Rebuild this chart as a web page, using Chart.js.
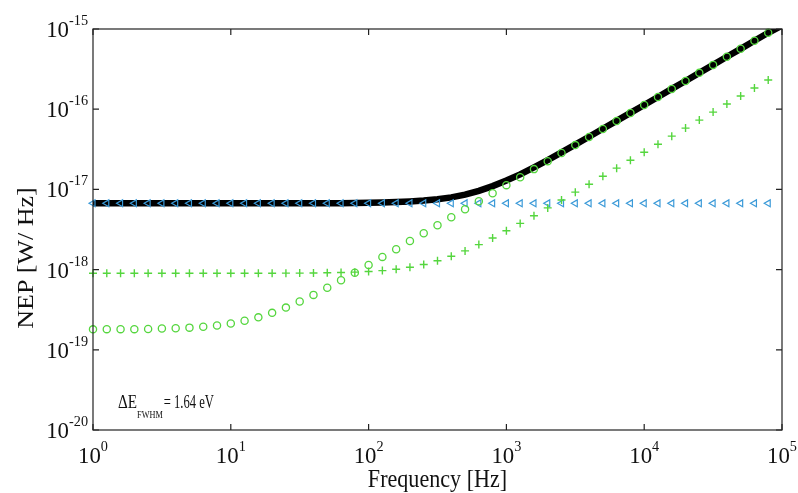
<!DOCTYPE html>
<html>
<head>
<meta charset="utf-8">
<script src="https://cdn.jsdelivr.net/npm/chart.js@4.4.1/dist/chart.umd.min.js"></script>
<style>
  html, body { margin: 0; padding: 0; background: #fff; }
  #wrap { width: 798px; height: 493px; }
</style>
</head>
<body>
<div id="wrap"><canvas id="chart"></canvas></div>
<script>
// frequency points (Hz), 10 per decade
const freq = [1, 1.259, 1.585, 1.995, 2.512, 3.162, 3.981, 5.012, 6.310, 7.943,
  10, 12.59, 15.85, 19.95, 25.12, 31.62, 39.81, 50.12, 63.10, 79.43,
  100, 125.9, 158.5, 199.5, 251.2, 316.2, 398.1, 501.2, 631.0, 794.3,
  1000, 1259, 1585, 1995, 2512, 3162, 3981, 5012, 6310, 7943,
  10000, 12589, 15849, 19953, 25119, 31623, 39811, 50119, 63096, 79433, 100000];

// total NEP (black line)
const nepTotal = [6.70e-18, 6.70e-18, 6.70e-18, 6.70e-18, 6.70e-18, 6.70e-18, 6.70e-18, 6.70e-18, 6.70e-18, 6.70e-18,
  6.70e-18, 6.70e-18, 6.70e-18, 6.70e-18, 6.70e-18, 6.71e-18, 6.72e-18, 6.73e-18, 6.74e-18, 6.76e-18,
  6.80e-18, 6.85e-18, 6.94e-18, 7.07e-18, 7.26e-18, 7.55e-18, 7.95e-18, 8.60e-18, 9.60e-18, 1.10e-17,
  1.29e-17, 1.54e-17, 1.88e-17, 2.32e-17, 2.89e-17, 3.62e-17, 4.54e-17, 5.70e-17, 7.16e-17, 9.00e-17,
  1.13e-16, 1.42e-16, 1.79e-16, 2.25e-16, 2.84e-16, 3.57e-16, 4.50e-16, 5.66e-16, 7.13e-16, 8.98e-16, 1.10e-15];

// blue triangles
const nepFlat = [6.70e-18, 6.70e-18, 6.70e-18, 6.70e-18, 6.70e-18, 6.70e-18, 6.70e-18, 6.70e-18, 6.70e-18, 6.70e-18,
  6.70e-18, 6.70e-18, 6.70e-18, 6.70e-18, 6.70e-18, 6.70e-18, 6.70e-18, 6.70e-18, 6.70e-18, 6.70e-18,
  6.70e-18, 6.70e-18, 6.70e-18, 6.70e-18, 6.70e-18, 6.70e-18, 6.70e-18, 6.70e-18, 6.70e-18, 6.70e-18,
  6.70e-18, 6.70e-18, 6.70e-18, 6.70e-18, 6.70e-18, 6.70e-18, 6.70e-18, 6.70e-18, 6.70e-18, 6.70e-18,
  6.70e-18, 6.70e-18, 6.70e-18, 6.70e-18, 6.70e-18, 6.70e-18, 6.70e-18, 6.70e-18, 6.70e-18, 6.70e-18];

// green plus
const nepPlus = [9.00e-19, 9.00e-19, 9.00e-19, 9.00e-19, 9.00e-19, 9.00e-19, 9.00e-19, 9.00e-19, 9.00e-19, 9.00e-19,
  9.00e-19, 9.00e-19, 9.01e-19, 9.02e-19, 9.03e-19, 9.05e-19, 9.07e-19, 9.12e-19, 9.19e-19, 9.29e-19,
  9.46e-19, 9.72e-19, 1.01e-18, 1.07e-18, 1.16e-18, 1.29e-18, 1.47e-18, 1.71e-18, 2.05e-18, 2.48e-18,
  3.05e-18, 3.77e-18, 4.70e-18, 5.88e-18, 7.37e-18, 9.24e-18, 1.16e-17, 1.46e-17, 1.84e-17, 2.31e-17,
  2.91e-17, 3.66e-17, 4.61e-17, 5.81e-17, 7.31e-17, 9.20e-17, 1.16e-16, 1.46e-16, 1.84e-16, 2.31e-16];

// green circles
const nepCircle = [1.80e-19, 1.81e-19, 1.81e-19, 1.81e-19, 1.82e-19, 1.84e-19, 1.86e-19, 1.89e-19, 1.94e-19, 2.01e-19,
  2.13e-19, 2.30e-19, 2.54e-19, 2.89e-19, 3.36e-19, 4.00e-19, 4.84e-19, 5.94e-19, 7.35e-19, 9.15e-19,
  1.14e-18, 1.44e-18, 1.79e-18, 2.27e-18, 2.84e-18, 3.58e-18, 4.50e-18, 5.66e-18, 7.13e-18, 8.97e-18,
  1.13e-17, 1.42e-17, 1.79e-17, 2.25e-17, 2.84e-17, 3.57e-17, 4.50e-17, 5.66e-17, 7.13e-17, 8.98e-17,
  1.13e-16, 1.42e-16, 1.79e-16, 2.25e-16, 2.84e-16, 3.57e-16, 4.50e-16, 5.66e-16, 7.13e-16, 8.98e-16];

// axis ticks
const xTicks = [1, 10, 100, 1000, 10000, 100000];
const xTickExp = ['0', '1', '2', '3', '4', '5'];
const yTicks = [1e-15, 1e-16, 1e-17, 1e-18, 1e-19, 1e-20];
const yTickExp = ['-15', '-16', '-17', '-18', '-19', '-20'];

const xTitle = 'Frequency [Hz]';
const yTitle = 'NEP [W/ Hz]';

const GREEN = '#55d63e';
const BLUE = '#3b9ad8';
const SERIF = '"Liberation Serif", "Times New Roman", serif';
const SX = 0.85; // horizontal squeeze of the text in the picture
const TSX = 0.95; // tick labels

function pts(vals) {
  return vals.map((v, i) => ({ x: freq[i], y: v }));
}

function txt(ctx, s, x, y, size, align, sx) {
  sx = sx || SX;
  ctx.save();
  ctx.font = size + 'px ' + SERIF;
  const w = ctx.measureText(s).width * sx;
  let x0 = x;
  if (align === 'right') x0 = x - w;
  if (align === 'center') x0 = x - w / 2;
  ctx.translate(x0, y);
  ctx.scale(sx, 1);
  ctx.textAlign = 'left';
  ctx.textBaseline = 'alphabetic';
  ctx.fillText(s, 0, 0);
  ctx.restore();
  return w;
}

function measure(ctx, s, size, sx) {
  ctx.save();
  ctx.font = size + 'px ' + SERIF;
  const w = ctx.measureText(s).width * (sx || SX);
  ctx.restore();
  return w;
}

const frame = {
  id: 'frame',
  afterDraw(chart) {
    const ctx = chart.ctx;
    const a = chart.chartArea;
    const xs = chart.scales.x, ys = chart.scales.y;
    ctx.save();
    ctx.strokeStyle = '#222';
    ctx.lineWidth = 1.2;
    ctx.strokeRect(a.left, a.top, a.right - a.left, a.bottom - a.top);
    // inside ticks on all four sides
    const tl = 6;
    ctx.beginPath();
    xTicks.forEach(v => {
      const px = xs.getPixelForValue(v);
      ctx.moveTo(px, a.bottom); ctx.lineTo(px, a.bottom - tl);
      ctx.moveTo(px, a.top); ctx.lineTo(px, a.top + tl);
    });
    yTicks.forEach(v => {
      const py = ys.getPixelForValue(v);
      ctx.moveTo(a.left, py); ctx.lineTo(a.left + tl, py);
      ctx.moveTo(a.right, py); ctx.lineTo(a.right - tl, py);
    });
    ctx.stroke();

    ctx.fillStyle = '#111';
    // x tick labels
    xTicks.forEach((v, i) => {
      const px = xs.getPixelForValue(v);
      const wb = measure(ctx, '10', 24, TSX), we = measure(ctx, xTickExp[i], 15, TSX);
      const x0 = px - (wb + we) / 2;
      txt(ctx, '10', x0, a.bottom + 33, 24, 'left', TSX);
      txt(ctx, xTickExp[i], x0 + wb, a.bottom + 21, 15, 'left', TSX);
    });
    // y tick labels
    yTicks.forEach((v, i) => {
      const py = ys.getPixelForValue(v);
      const we = txt(ctx, yTickExp[i], a.left - 5, py - 4, 15, 'right', TSX);
      txt(ctx, '10', a.left - 5 - we, py + 8, 24, 'right', TSX);
    });
    // axis titles
    txt(ctx, xTitle, (a.left + a.right) / 2, 487, 26, 'center');
    ctx.save();
    ctx.translate(33, 258);
    ctx.rotate(-Math.PI / 2);
    ctx.scale(1, SX);
    ctx.font = '26px ' + SERIF;
    ctx.textAlign = 'center';
    ctx.fillText(yTitle, 0, 0);
    ctx.restore();
    // energy resolution note
    let x = 118;
    x += txt(ctx, '\u0394E', x, 408, 19, 'left', 0.8);
    x += txt(ctx, 'FWHM', x, 418, 11, 'left', 0.75);
    txt(ctx, '= 1.64 eV', x + 1, 408, 18, 'left', 0.7);
    ctx.restore();
  }
};

new Chart(document.getElementById('chart'), {
  type: 'line',
  data: {
    datasets: [
      {
        label: 'circles',
        data: pts(nepCircle),
        showLine: false,
        pointStyle: 'circle',
        pointRadius: 3.6,
        pointBorderWidth: 1.3,
        pointBorderColor: GREEN,
        pointBackgroundColor: 'rgba(0,0,0,0)',
        clip: false
      },
      {
        label: 'plus',
        data: pts(nepPlus),
        showLine: false,
        pointStyle: 'cross',
        pointRadius: 4,
        pointBorderWidth: 1.4,
        pointBorderColor: GREEN,
        clip: false
      },
      {
        label: 'triangles',
        data: pts(nepFlat),
        showLine: false,
        pointStyle: 'triangle',
        pointRotation: -90,
        pointRadius: 4,
        pointBorderWidth: 1.2,
        pointBorderColor: BLUE,
        pointBackgroundColor: 'rgba(0,0,0,0)',
        clip: false
      },
      {
        label: 'total',
        data: pts(nepTotal),
        borderColor: '#000',
        borderWidth: 6.5,
        pointRadius: 0,
        tension: 0,
        fill: false
      }
    ]
  },
  options: {
    responsive: true,
    maintainAspectRatio: false,
    animation: false,
    layout: { padding: { left: 93, right: 16, top: 29, bottom: 63 } },
    plugins: {
      legend: { display: false },
      tooltip: { enabled: false }
    },
    scales: {
      x: { type: 'logarithmic', min: 1, max: 100000, display: false },
      y: { type: 'logarithmic', min: 1e-20, max: 1e-15, display: false }
    }
  },
  plugins: [frame]
});
</script>
</body>
</html>
